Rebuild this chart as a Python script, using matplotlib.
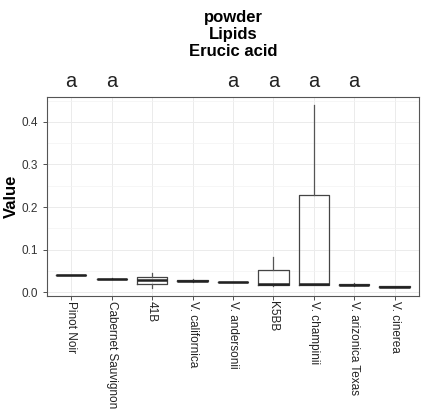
import matplotlib
matplotlib.use("Agg")
import matplotlib.pyplot as plt
from matplotlib.ticker import MultipleLocator

plt.rcParams['font.family'] = ['Liberation Sans', 'DejaVu Sans']

categories = ["Pinot Noir", "Cabernet Sauvignon", "41B", "V. californica",
              "V. andersonii", "K5BB", "V. champinii", "V. arizonica Texas", "V. cinerea"]
medians = [0.040, 0.031, 0.028, 0.027, 0.0235, 0.020, 0.0195, 0.018, 0.0135]
q1 = [0.0395, 0.030, 0.020, 0.026, 0.023, 0.017, 0.017, 0.016, 0.013]
q3 = [0.0405, 0.032, 0.037, 0.029, 0.024, 0.052, 0.229, 0.020, 0.014]
whislo = [0.0395, 0.030, 0.011, 0.025, 0.023, 0.015, 0.016, 0.015, 0.013]
whishi = [0.0405, 0.033, 0.046, 0.030, 0.024, 0.082, 0.440, 0.021, 0.014]
letters = ["a", "a", "", "", "a", "a", "a", "a", ""]
title_lines = ["powder", "Lipids", "Erucic acid"]
y_label = "Value"
y_ticks = [0.0, 0.1, 0.2, 0.3, 0.4]

fig = plt.figure(figsize=(4.21, 4.15), dpi=100)
ax = fig.add_axes([0.1116, 0.2875, 0.8834, 0.4785])

stats = []
for i, c in enumerate(categories):
    stats.append(dict(med=medians[i], q1=q1[i], q3=q3[i],
                      whislo=whislo[i], whishi=whishi[i], fliers=[], label=c))
pos = list(range(1, len(categories) + 1))
ax.bxp(stats, positions=pos, widths=0.75, showfliers=False, showcaps=False,
       boxprops=dict(color='#444444', linewidth=0.9),
       whiskerprops=dict(color='#555555', linewidth=0.9),
       medianprops=dict(color='#222222', linewidth=1.8),
       patch_artist=False)

ax.set_xlim(0.4, len(categories) + 0.6)
ax.set_ylim(-0.008, 0.458)
ax.set_yticks(y_ticks)
ax.set_yticklabels([f"{v:.1f}" for v in y_ticks])
ax.yaxis.set_minor_locator(MultipleLocator(0.05))
ax.set_xticks(pos)
ax.set_xticklabels(categories, rotation=270, ha='center', va='top',
                   fontsize=8.5, color='#222222')
ax.tick_params(axis='y', labelsize=8.5, colors='#333333', length=3, width=0.6)
ax.tick_params(axis='x', length=3, width=0.6, colors='#333333', pad=1)
ax.tick_params(axis='y', which='minor', length=0)
for lab in ax.get_xticklabels():
    lab.set_color('#222222')

ax.grid(True, which='major', color='#ebebeb', linewidth=0.7)
ax.grid(True, which='minor', axis='y', color='#f3f3f3', linewidth=0.5)
ax.set_axisbelow(True)
for s in ax.spines.values():
    s.set_color('#555555')
    s.set_linewidth(0.8)

ax.set_ylabel(y_label, fontsize=12, fontweight='bold')
ax.yaxis.set_label_coords(-0.075, 0.5)

for p, l in zip(pos, letters):
    if l:
        ax.text(p, 1.03, l, transform=ax.get_xaxis_transform(), ha='center',
                va='bottom', fontsize=14.5, color='#222222')

fig.text(0.555, 0.975, "\n".join(title_lines), ha='center', va='top',
         fontsize=12, fontweight='bold', linespacing=1.15)

fig.savefig("out.png", dpi=100)
